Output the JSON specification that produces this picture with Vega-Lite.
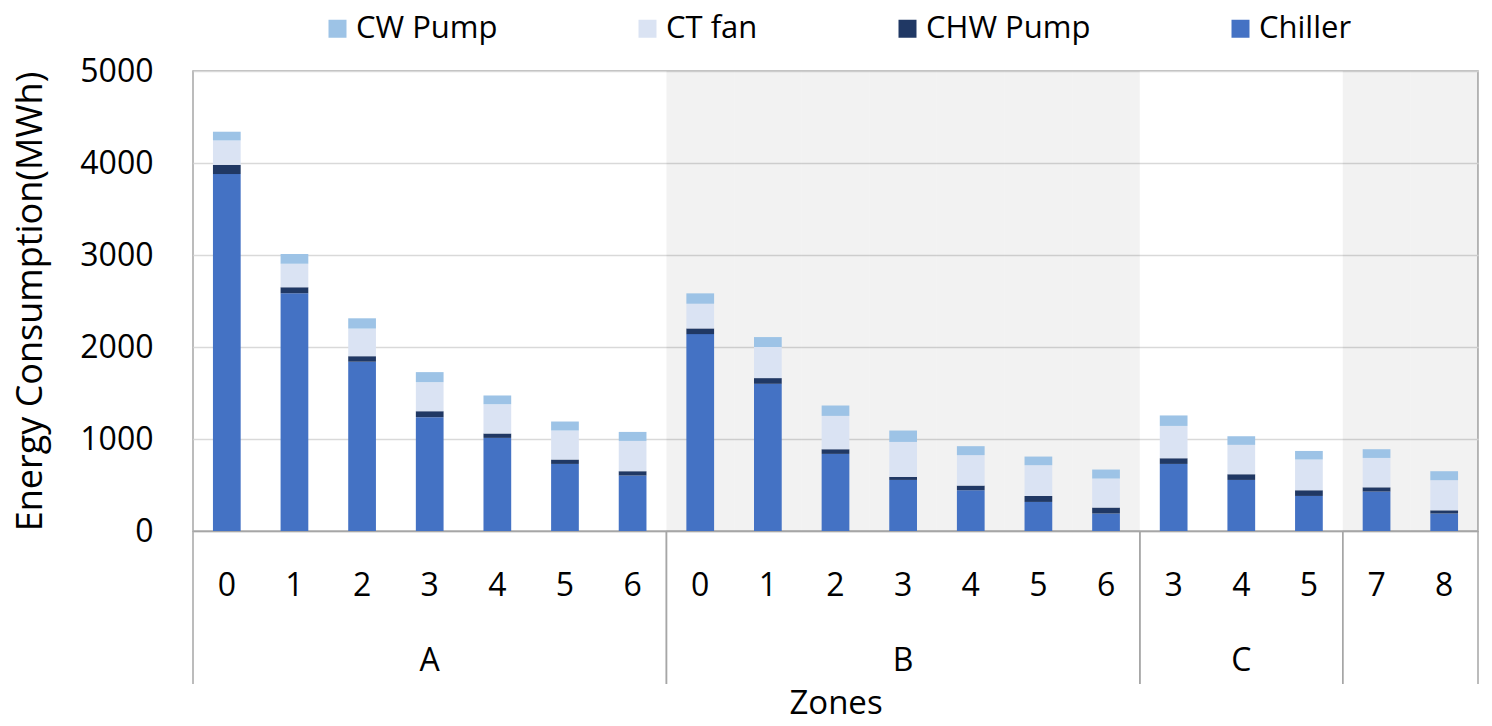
{
  "$schema": "https://vega.github.io/schema/vega-lite/v6.json",
  "autosize": {"type": "none"},
  "width": 1285,
  "height": 460,
  "padding": {"left": 193, "top": 71, "right": 14, "bottom": 195},
  "background": "#ffffff",
  "datasets": {
    "energy": [
      {"key": "A|0", "group": "A", "Chiller": 3880, "CHW Pump": 100, "CT fan": 265, "CW Pump": 95},
      {"key": "A|1", "group": "A", "Chiller": 2585, "CHW Pump": 65, "CT fan": 255, "CW Pump": 105},
      {"key": "A|2", "group": "A", "Chiller": 1840, "CHW Pump": 60, "CT fan": 300, "CW Pump": 112},
      {"key": "A|3", "group": "A", "Chiller": 1237, "CHW Pump": 65, "CT fan": 316, "CW Pump": 109},
      {"key": "A|4", "group": "A", "Chiller": 1012, "CHW Pump": 48, "CT fan": 318, "CW Pump": 95},
      {"key": "A|5", "group": "A", "Chiller": 729, "CHW Pump": 48, "CT fan": 315, "CW Pump": 98},
      {"key": "A|6", "group": "A", "Chiller": 603, "CHW Pump": 47, "CT fan": 329, "CW Pump": 98},
      {"key": "B|0", "group": "B", "Chiller": 2140, "CHW Pump": 62, "CT fan": 268, "CW Pump": 113},
      {"key": "B|1", "group": "B", "Chiller": 1600, "CHW Pump": 62, "CT fan": 338, "CW Pump": 108},
      {"key": "B|2", "group": "B", "Chiller": 838, "CHW Pump": 51, "CT fan": 362, "CW Pump": 113},
      {"key": "B|3", "group": "B", "Chiller": 555, "CHW Pump": 33, "CT fan": 380, "CW Pump": 124},
      {"key": "B|4", "group": "B", "Chiller": 443, "CHW Pump": 51, "CT fan": 330, "CW Pump": 98},
      {"key": "B|5", "group": "B", "Chiller": 316, "CHW Pump": 65, "CT fan": 334, "CW Pump": 94},
      {"key": "B|6", "group": "B", "Chiller": 190, "CHW Pump": 65, "CT fan": 315, "CW Pump": 98},
      {"key": "C|3", "group": "C", "Chiller": 729, "CHW Pump": 62, "CT fan": 351, "CW Pump": 114},
      {"key": "C|4", "group": "C", "Chiller": 555, "CHW Pump": 62, "CT fan": 319, "CW Pump": 94},
      {"key": "C|5", "group": "C", "Chiller": 381, "CHW Pump": 62, "CT fan": 334, "CW Pump": 93},
      {"key": "D|7", "group": "D", "Chiller": 429, "CHW Pump": 46, "CT fan": 319, "CW Pump": 95},
      {"key": "D|8", "group": "D", "Chiller": 190, "CHW Pump": 35, "CT fan": 327, "CW Pump": 98}
    ],
    "parts": [
      {"component": "Chiller", "level": 1},
      {"component": "CHW Pump", "level": 2},
      {"component": "CT fan", "level": 3},
      {"component": "CW Pump", "level": 4}
    ],
    "groups": [
      {"group": "A", "label": "A", "first": "A|0", "mid": "A|3", "last": "A|6"},
      {"group": "B", "label": "B", "first": "B|0", "mid": "B|3", "last": "B|6"},
      {"group": "C", "label": "C", "first": "C|3", "mid": "C|4", "last": "C|5"},
      {"group": "D", "label": "", "first": "D|7", "mid": "D|7", "last": "D|8"}
    ]
  },
  "config": {
    "font": "Open Sans",
    "view": {"stroke": "#a6a6a6", "strokeWidth": 1.5},
    "axis": {
      "labelFont": "Open Sans",
      "titleFont": "Open Sans",
      "labelColor": "#000000",
      "titleColor": "#000000",
      "titleFontWeight": "normal",
      "ticks": false
    }
  },
  "layer": [
    {
      "data": {"name": "energy"},
      "mark": {"type": "bar", "fill": "#000000", "width": {"band": 1}},
      "encoding": {
        "x": {
          "field": "key",
          "type": "nominal",
          "scale": {"paddingInner": 0, "paddingOuter": 0},
          "axis": {
            "title": "Zones",
            "titleFontSize": 33,
            "titlePadding": 86,
            "labelFontSize": 32,
            "labelPadding": 39,
            "labelAngle": 0,
            "labelExpr": "split(datum.value, '|')[1]",
            "domainColor": "#a6a6a6",
            "domainWidth": 1.5
          }
        },
        "y": {
          "datum": 5000,
          "type": "quantitative",
          "scale": {"domain": [0, 5000], "nice": false},
          "axis": {
            "title": "Energy Consumption(MWh)",
            "titleFontSize": 36,
            "titlePadding": 30,
            "labelFontSize": 32,
            "labelPadding": 40,
            "format": "d",
            "values": [0, 1000, 2000, 3000, 4000, 5000],
            "grid": true,
            "gridColor": "#d9d9d9",
            "gridWidth": 1.5,
            "domain": false
          }
        },
        "y2": {"datum": 0},
        "fillOpacity": {
          "condition": {"test": "datum.group === 'B' || datum.group === 'D'", "value": 0.052},
          "value": 0
        }
      }
    },
    {
      "data": {"name": "energy"},
      "transform": [
        {"fold": ["Chiller", "CHW Pump", "CT fan", "CW Pump"], "as": ["component", "mwh"]},
        {"lookup": "component", "from": {"data": {"name": "parts"}, "key": "component", "fields": ["level"]}}
      ],
      "mark": {"type": "bar", "width": {"band": 0.41}},
      "encoding": {
        "x": {"field": "key", "type": "nominal"},
        "y": {"field": "mwh", "type": "quantitative", "stack": "zero"},
        "order": {"field": "level", "type": "quantitative", "sort": "ascending"},
        "color": {
          "field": "component",
          "type": "nominal",
          "scale": {
            "domain": ["CW Pump", "CT fan", "CHW Pump", "Chiller"],
            "range": ["#9dc3e6", "#dae3f3", "#203864", "#4472c4"]
          },
          "legend": {
            "title": null,
            "orient": "none",
            "legendX": 129,
            "legendY": -58,
            "direction": "horizontal",
            "columns": 4,
            "padding": 0,
            "symbolType": "square",
            "symbolSize": 324,
            "symbolStrokeWidth": 0,
            "symbolOpacity": 1,
            "labelFont": "Open Sans",
            "labelFontSize": 31,
            "labelColor": "#000000",
            "labelOffset": 3,
            "columnPadding": 134,
            "labelLimit": 400
          }
        }
      }
    },
    {
      "data": {"name": "groups"},
      "mark": {"type": "rule", "color": "#a6a6a6", "strokeWidth": 1.5},
      "encoding": {
        "x": {"field": "first", "type": "nominal", "bandPosition": 0},
        "y": {"datum": 0},
        "y2": {"datum": -1663}
      }
    },
    {
      "data": {"name": "groups"},
      "mark": {"type": "rule", "color": "#a6a6a6", "strokeWidth": 1.5},
      "encoding": {
        "x": {"field": "last", "type": "nominal", "bandPosition": 1},
        "y": {"datum": 0},
        "y2": {"datum": -1663}
      }
    },
    {
      "data": {"name": "groups"},
      "mark": {"type": "text", "font": "Open Sans", "fontSize": 32, "color": "#000000", "baseline": "middle", "align": "center"},
      "encoding": {
        "x": {"field": "mid", "type": "nominal"},
        "y": {"datum": -1413},
        "text": {"field": "label"}
      }
    }
  ]
}
